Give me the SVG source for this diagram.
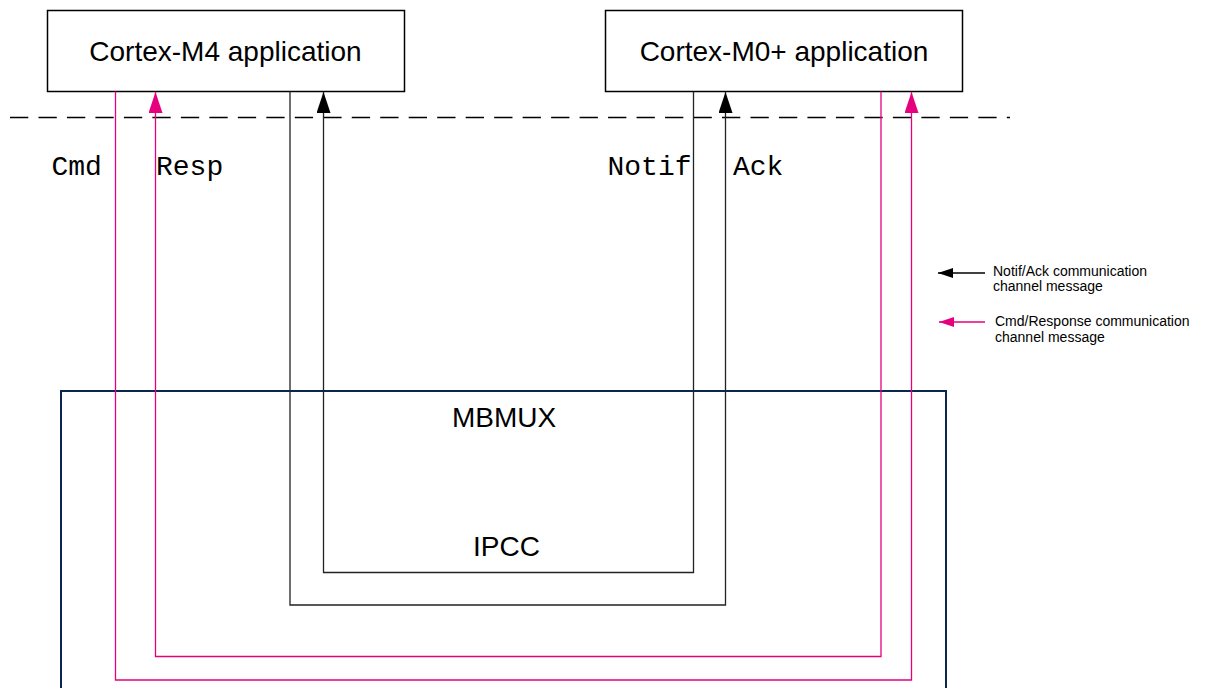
<svg xmlns="http://www.w3.org/2000/svg" width="1208" height="688" viewBox="0 0 1208 688">
<style>
.box{fill:#fff;stroke:#000;stroke-width:1.5}
.mb{fill:none;stroke:#0b2750;stroke-width:2}
.t{font-family:"Liberation Sans",Arial,sans-serif;font-size:28px;fill:#000;text-anchor:middle}
.m{font-family:"Liberation Mono","Courier New",monospace;font-size:28px;fill:#000}
.lg{font-family:"Liberation Sans",Arial,sans-serif;font-size:14px;fill:#000}
.pk{fill:none;stroke:#e6007e;stroke-width:1.3}
.bk{fill:none;stroke:#222;stroke-width:1.3}
.dash{fill:none;stroke:#000;stroke-width:1.3;stroke-dasharray:18.3 10.18}
</style>
<defs>
<marker id="ap" markerUnits="userSpaceOnUse" viewBox="0 0 21 14" refX="21" refY="7" markerWidth="21" markerHeight="14" orient="auto"><path d="M0,0 L21,7 L0,14 z" fill="#e6007e"/></marker>
<marker id="ab" markerUnits="userSpaceOnUse" viewBox="0 0 21 14" refX="21" refY="7" markerWidth="21" markerHeight="14" orient="auto"><path d="M0,0 L21,7 L0,14 z" fill="#000"/></marker>
<marker id="lp" markerUnits="userSpaceOnUse" viewBox="0 0 15 10" refX="15" refY="5" markerWidth="15" markerHeight="10" orient="auto"><path d="M0,0 L15,5 L0,10 z" fill="#e6007e"/></marker>
<marker id="lb" markerUnits="userSpaceOnUse" viewBox="0 0 15 10" refX="15" refY="5" markerWidth="15" markerHeight="10" orient="auto"><path d="M0,0 L15,5 L0,10 z" fill="#000"/></marker>
</defs>
<rect width="1208" height="688" fill="#fff"/>
<g id="mbmux">
<rect class="mb" x="61" y="391" width="885" height="320"/>
<text class="t" x="504" y="427">MBMUX</text>
</g>
<g id="ipcc">
<text class="t" x="506.5" y="556">IPCC</text>
</g>
<g id="cortex-m4">
<rect class="box" x="47.5" y="10.5" width="357" height="81"/>
<text class="t" x="225.5" y="61">Cortex-M4 application</text>
</g>
<g id="cortex-m0">
<rect class="box" x="605.5" y="10.5" width="357" height="81"/>
<text class="t" x="784" y="61">Cortex-M0+ application</text>
</g>
<path class="dash" d="M10,117.5 H1010"/>
<g id="connectors">
<path class="pk" d="M115.5,91.5 V680 H911.5 V92" marker-end="url(#ap)"/>
<path class="pk" d="M881,91.5 V656.5 H155.5 V92" marker-end="url(#ap)"/>
<path class="bk" d="M693.5,91.5 V572.5 H323.5 V92" marker-end="url(#ab)"/>
<path class="bk" d="M290,91.5 V605 H725.5 V92" marker-end="url(#ab)"/>
</g>
<g id="labels">
<text class="m" x="51.5" y="175">Cmd</text>
<text class="m" x="156" y="175">Resp</text>
<text class="m" x="607.5" y="175">Notif</text>
<text class="m" x="733" y="175">Ack</text>
</g>
<g id="legend">
<path class="bk" style="stroke:#000" d="M985,273 H938" marker-end="url(#lb)"/>
<text class="lg" x="993" y="276">Notif/Ack communication</text>
<text class="lg" x="993" y="291">channel message</text>
<path class="pk" d="M985,322 H939" marker-end="url(#lp)"/>
<text class="lg" x="995" y="326">Cmd/Response communication</text>
<text class="lg" x="995" y="342">channel message</text>
</g>
</svg>
